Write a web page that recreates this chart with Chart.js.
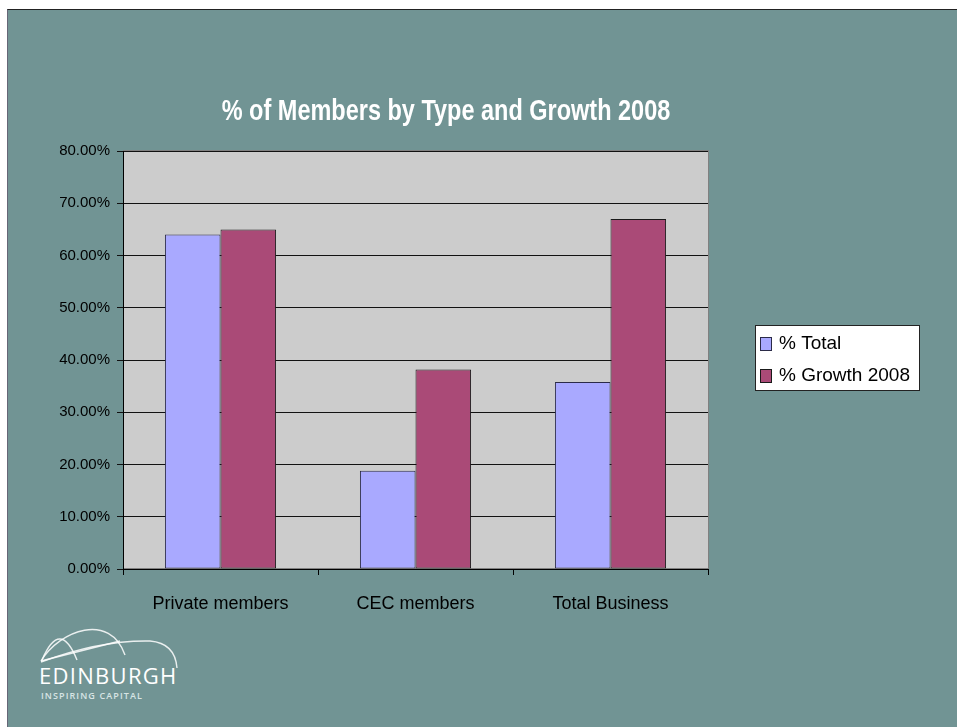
<!DOCTYPE html>
<html>
<head>
<meta charset="utf-8">
<script src="https://cdn.jsdelivr.net/npm/chart.js@4.4.1/dist/chart.umd.min.js"></script>
<style>
  html, body { margin: 0; padding: 0; background: #fff; }
  #slide {
    position: absolute; left: 7px; top: 9px; width: 950px; height: 718px;
    background: #719494; border-top: 1px solid #222; border-left: 1px solid #667;
  }
  #wrap { position: absolute; left: 0; top: 0; width: 957px; height: 727px; }
  #logo { position: absolute; left: 30px; top: 628px; width: 170px; height: 80px; }
  #logo .name {
    position: absolute; left: 9px; top: 32px; color: #fff;
    font: 22px "Open Sans", sans-serif; letter-spacing: 1.3px; white-space: nowrap;
  }
  #logo .sub {
    position: absolute; left: 11px; top: 61px; color: #d8e4e4;
    font: 600 9px "Open Sans", sans-serif; letter-spacing: 1.1px; white-space: nowrap;
  }
</style>
</head>
<body>
<div id="slide"></div>
<div id="logo">
  <svg width="170" height="42" style="position:absolute;left:0;top:0">
    <g fill="none" stroke="#fff" stroke-width="1.4" stroke-opacity="0.85" transform="translate(-30,-628)">
      <path d="M42 660 Q 60 618 77 660"/>
      <path d="M41 661 C 60 630, 110 612, 125 655"/>
      <path d="M41 661 L 120 641"/>
      <path d="M41 662 Q 100 640 150 641 Q 175 643 177 668"/>
    </g>
  </svg>
  <div class="name">EDINBURGH</div>
  <div class="sub">INSPIRING CAPITAL</div>
</div>
<div id="wrap"><canvas id="barChart" width="957" height="727"></canvas></div>
<script>
// カテゴリ
var categories = ["Private members", "CEC members", "Total Business"];
// 系列の値 (%)
var totalPct = [64.0, 18.8, 35.8];
var growthPct = [65.0, 38.2, 67.0];
// 系列名
var seriesNames = ["% Total", "% Growth 2008"];
// 目盛
var yMax = 80;
var yStep = 10;

var chartTitle = "% of Members by Type and Growth 2008";

// プロットエリアの背景と枠
var plotBg = {
  id: 'plotBg',
  beforeDraw: function(chart) {
    var a = chart.chartArea, c = chart.ctx;
    c.save();
    c.fillStyle = '#cccccc';
    c.fillRect(a.left, a.top, a.right - a.left, a.bottom - a.top);
    c.strokeStyle = '#808080';
    c.lineWidth = 1;
    c.strokeRect(a.left + 0.5, a.top - 0.5, a.right - a.left, a.bottom - a.top);
    c.restore();
  }
};

// タイトル (細長い書体の代わりに横方向を縮める)
var titlePlugin = {
  id: 'slideTitle',
  afterDraw: function(chart) {
    var c = chart.ctx;
    c.save();
    c.fillStyle = '#ffffff';
    c.font = 'bold 29px "Liberation Sans", Arial, sans-serif';
    c.textAlign = 'center';
    c.textBaseline = 'middle';
    c.translate(446, 112);
    c.scale(0.81, 1);
    c.fillText(chartTitle, 0, 0);
    c.restore();
  }
};

// 凡例 (枠付き)
var legendBox = {
  id: 'legendBox',
  afterDraw: function(chart) {
    var c = chart.ctx;
    var x = 755, y = 325, w = 164, h = 65;
    c.save();
    c.fillStyle = '#ffffff';
    c.fillRect(x, y, w, h);
    c.strokeStyle = '#222';
    c.lineWidth = 1;
    c.strokeRect(x + 0.5, y + 0.5, w, h);
    c.font = '19px "Liberation Sans", Arial, sans-serif';
    c.textBaseline = 'middle';
    chart.data.datasets.forEach(function(ds, i) {
      var cy = y + 19 + i * 32;
      c.fillStyle = ds.backgroundColor;
      c.fillRect(x + 5, cy - 7, 12, 14);
      c.strokeStyle = ds.borderColor;
      c.strokeRect(x + 5.5, cy - 6.5, 11, 13);
      c.fillStyle = '#000';
      c.fillText(ds.label, x + 24, cy);
    });
    c.restore();
  }
};

var ctx = document.getElementById("barChart");
var myChart = new Chart(ctx, {
  type: 'bar',
  data: {
    labels: categories,
    datasets: [
      {
        label: seriesNames[0],
        data: totalPct,
        backgroundColor: '#a9a9ff',
        borderColor: '#2b2b48',
        borderWidth: 1,
        borderSkipped: false
      },
      {
        label: seriesNames[1],
        data: growthPct,
        backgroundColor: '#aa4a77',
        borderColor: '#1a1a1a',
        borderWidth: 1,
        borderSkipped: false
      }
    ]
  },
  options: {
    responsive: false,
    animation: false,
    layout: { padding: { left: 0, top: 151, right: 249, bottom: 0 } },
    datasets: {
      bar: { categoryPercentage: 0.57, barPercentage: 1.0 }
    },
    plugins: {
      legend: { display: false },
      title: { display: false },
      tooltip: { enabled: false }
    },
    scales: {
      x: {
        afterFit: function(scale) { scale.height = 158; },
        grid: {
          offset: true,
          drawOnChartArea: false,
          color: '#000',
          tickLength: 6
        },
        border: { color: '#000' },
        ticks: {
          color: '#000',
          padding: 18,
          font: { family: '"Liberation Sans", Arial, sans-serif', size: 18 }
        }
      },
      y: {
        min: 0,
        max: yMax,
        afterFit: function(scale) { scale.width = 123; },
        grid: { color: '#111', tickLength: 6 },
        border: { color: '#000' },
        ticks: {
          stepSize: yStep,
          color: '#000',
          padding: 7,
          font: { family: '"Liberation Sans", Arial, sans-serif', size: 15 },
          callback: function(v) { return v.toFixed(2) + '%'; }
        }
      }
    }
  },
  plugins: [plotBg, titlePlugin, legendBox]
});
</script>
</body>
</html>
